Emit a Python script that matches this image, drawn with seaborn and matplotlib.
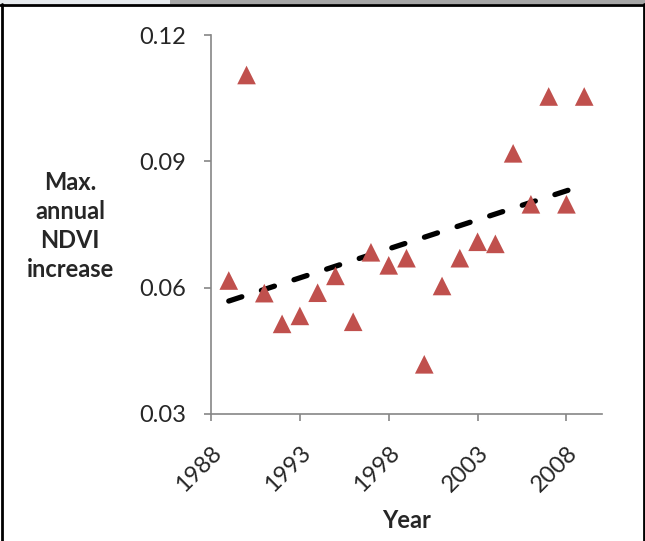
import numpy as np
import pandas as pd
import matplotlib
matplotlib.use("Agg")
import matplotlib.pyplot as plt
from matplotlib.lines import Line2D
from matplotlib.patches import Rectangle
import seaborn as sns

years = [1989, 1990, 1991, 1992, 1993, 1994, 1995, 1996, 1997, 1998, 1999,
         2000, 2001, 2002, 2003, 2004, 2005, 2006, 2007, 2008, 2009]
ndvi = [0.0617, 0.1105, 0.0587, 0.0514, 0.0533, 0.0588, 0.0628, 0.0519,
        0.0684, 0.0653, 0.0670, 0.0418, 0.0604, 0.0670, 0.0709, 0.0704,
        0.0919, 0.0798, 0.1054, 0.0798, 0.1054]
x_ticks = [1988, 1993, 1998, 2003, 2008]
y_ticks = [0.03, 0.06, 0.09, 0.12]

df = pd.DataFrame({"Year": years, "NDVI": ndvi})

sns.set_theme(style="white")
plt.rcParams["font.family"] = ["Lato", "DejaVu Sans"]

fig = plt.figure(figsize=(6.45, 5.41), dpi=100)
ax = fig.add_axes([211 / 645, 1 - 414 / 541, (602 - 211) / 645, (414 - 35) / 541])

sns.regplot(data=df, x="Year", y="NDVI", scatter=False, ci=None, ax=ax,
            line_kws=dict(color="black", lw=3.8, linestyle=(0, (2.6, 3.9)),
                          dash_capstyle="round"))
sns.scatterplot(data=df, x="Year", y="NDVI", marker="^", s=180, color="#C0504D",
                edgecolor="none", ax=ax, zorder=3)

ax.set_xlim(1988, 2010)
ax.set_ylim(0.03, 0.12)
ax.set_xticks(x_ticks)
ax.set_yticks(y_ticks)
ax.set_yticklabels([f"{v:.2f}" for v in y_ticks], fontsize=17)
ax.set_xticklabels([str(v) for v in x_ticks], fontsize=17, rotation=45,
                   ha="right", rotation_mode="anchor")

for s in ["top", "right"]:
    ax.spines[s].set_visible(False)
for s in ["left", "bottom"]:
    ax.spines[s].set_color("#868686")
    ax.spines[s].set_linewidth(1.2)
ax.tick_params(axis="both", direction="out", length=5, width=1.2, color="#868686",
               left=True, bottom=True)
ax.tick_params(axis="y", pad=13)
ax.tick_params(axis="x", pad=15)

ax.set_xlabel("Year", fontsize=17, fontweight="bold", labelpad=10)
ax.set_ylabel("")
fig.text(70 / 645, 1 - 226 / 541, "Max.\nannual\nNDVI\nincrease", fontsize=17,
         fontweight="bold", ha="center", va="center", linespacing=1.3)

# window frame
fig.patches.append(Rectangle((0, 1 - 4 / 541), 170 / 645, 4 / 541, transform=fig.transFigure,
                             facecolor="#E6EAEE", edgecolor="none"))
fig.patches.append(Rectangle((170 / 645, 1 - 4 / 541), 1 - 170 / 645, 4 / 541,
                             transform=fig.transFigure, facecolor="#A6A6A6", edgecolor="none"))
fig.lines.append(Line2D([0, 1], [1 - 5 / 541, 1 - 5 / 541], transform=fig.transFigure,
                        color="black", lw=2))
fig.lines.append(Line2D([1.5 / 645, 1.5 / 645], [0, 1 - 4 / 541], transform=fig.transFigure,
                        color="black", lw=2))
fig.lines.append(Line2D([643.5 / 645, 643.5 / 645], [0, 1 - 4 / 541], transform=fig.transFigure,
                        color="black", lw=2))

fig.savefig("out.png", dpi=100)
